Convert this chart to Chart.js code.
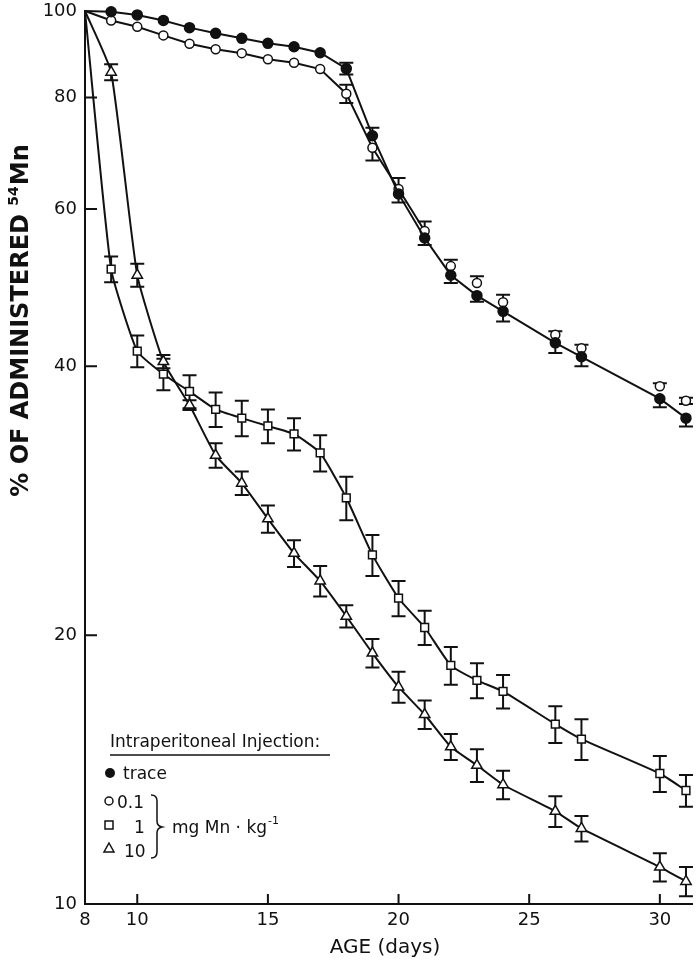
<!DOCTYPE html>
<html>
<head>
<meta charset="utf-8">
<script src="https://cdn.jsdelivr.net/npm/chart.js@4.4.1/dist/chart.umd.min.js"></script>
<style>
  html, body { margin: 0; padding: 0; background: #fff; }
  canvas { display: block; }
</style>
</head>
<body>
<canvas id="myChart" width="700" height="966"></canvas>
<script>
// age in days
const days = [8, 9, 10, 11, 12, 13, 14, 15, 16, 17, 18, 19, 20, 21, 22, 23, 24, 26, 27, 30, 31];

// % of administered 54Mn retained
const trace = [100, 99.8, 99.0, 97.6, 95.8, 94.4, 93.2, 92.0, 91.2, 89.8, 86.2, 72.5, 62.4, 55.7, 50.6, 48.0, 46.1, 42.5, 41.0, 36.8, 35.0];
const traceErr = [0, 0, 0, 0, 0, 0, 0, 0, 0, 0, 1.3, 1.5, 1.35, 1.0, 1.0, 0.75, 1.2, 1.1, 1.0, 0.8, 0.75];

const dose01 = [100, 97.6, 96.0, 93.9, 91.9, 90.6, 89.7, 88.3, 87.5, 86.1, 80.8, 70.3, 63.2, 56.7, 51.8, 49.6, 47.2, 43.4, 41.9, 38.0, 36.6];
const dose01Err = [0, 0, 0, 0, 0, 0, 0, 0, 0, 0, 1.9, 2.3, 1.8, 1.4, 0.85, 0.85, 0.9, 0.4, 0.4, 0.3, 0.3];

const dose1 = [100, 51.4, 41.6, 39.2, 37.5, 35.8, 35.0, 34.3, 33.6, 32.0, 28.5, 24.6, 22.0, 20.4, 18.5, 17.8, 17.3, 15.9, 15.3, 14.0, 13.4];
const dose1Err = [0, 1.7, 1.7, 1.6, 1.6, 1.6, 1.6, 1.5, 1.4, 1.5, 1.6, 1.3, 1.0, 0.9, 0.9, 0.8, 0.75, 0.75, 0.8, 0.65, 0.55];

const dose10 = [100, 85.4, 50.6, 40.5, 36.2, 31.8, 29.6, 27.0, 24.7, 23.0, 21.0, 19.1, 17.5, 16.3, 15.0, 14.3, 13.6, 12.7, 12.15, 11.0, 10.6];
const dose10Err = [0, 1.75, 1.5, 0.7, 0.45, 1.0, 0.9, 0.95, 0.85, 0.9, 0.6, 0.7, 0.7, 0.6, 0.5, 0.6, 0.5, 0.5, 0.4, 0.4, 0.4];

const xTicks = [8, 10, 15, 20, 25, 30];
const yTicks = [10, 20, 40, 60, 80, 100];

const FONT = '"DejaVu Sans", sans-serif';
const INK = '#111';

const pts = (vals) => days.map((d, i) => ({ x: d, y: vals[i] }));
const noFirst = (r) => (ctx) => ctx.dataIndex === 0 ? 0 : r;

// error bars, drawn before the markers so the white fill covers the inner part
const errorBars = {
  id: 'errorBars',
  beforeDatasetsDraw(chart) {
    const ctx = chart.ctx;
    const ys = chart.scales.y;
    ctx.save();
    ctx.strokeStyle = INK;
    ctx.lineWidth = 2;
    chart.data.datasets.forEach((ds, di) => {
      const meta = chart.getDatasetMeta(di);
      const partner = ds.partner !== undefined ? chart.getDatasetMeta(ds.partner) : null;
      meta.data.forEach((pt, i) => {
        const e = ds.err[i];
        if (!e) return;
        const v = ds.data[i].y;
        const top = ys.getPixelForValue(v + e);
        const bot = ys.getPixelForValue(v - e);
        let up = true, down = true;
        if (partner) {
          const py = partner.data[i].y;
          if (py < pt.y && pt.y - py < (pt.y - top) + 12) up = false;
          if (py > pt.y && py - pt.y < (bot - pt.y) + 12) down = false;
        }
        const cap = 7;
        ctx.beginPath();
        if (up) {
          ctx.moveTo(pt.x, pt.y); ctx.lineTo(pt.x, top);
          ctx.moveTo(pt.x - cap, top); ctx.lineTo(pt.x + cap, top);
        }
        if (down) {
          ctx.moveTo(pt.x, pt.y); ctx.lineTo(pt.x, bot);
          ctx.moveTo(pt.x - cap, bot); ctx.lineTo(pt.x + cap, bot);
        }
        ctx.stroke();
      });
    });
    ctx.restore();
  }
};

// inward ticks, axis titles and the hand-lettered key
const decorations = {
  id: 'decorations',
  afterDraw(chart) {
    const ctx = chart.ctx;
    const xs = chart.scales.x;
    const ys = chart.scales.y;
    const a = chart.chartArea;
    ctx.save();
    ctx.strokeStyle = INK;
    ctx.fillStyle = INK;
    ctx.lineWidth = 2;

    ctx.beginPath();
    xTicks.slice(1).forEach(t => {
      const px = xs.getPixelForValue(t);
      ctx.moveTo(px, a.bottom); ctx.lineTo(px, a.bottom - 10);
    });
    yTicks.slice(1, -1).forEach(t => {
      const py = ys.getPixelForValue(t);
      ctx.moveTo(a.left, py); ctx.lineTo(a.left + 12, py);
    });
    ctx.stroke();

    // x title
    ctx.font = '20px ' + FONT;
    ctx.textAlign = 'center';
    ctx.textBaseline = 'middle';
    ctx.fillText('AGE (days)', 385, 948);

    // y title, rotated, with superscript mass number
    ctx.save();
    ctx.translate(28, 321);
    ctx.rotate(-Math.PI / 2);
    ctx.textBaseline = 'alphabetic';
    ctx.textAlign = 'left';
    const main = '% OF ADMINISTERED ';
    ctx.font = 'bold 24px ' + FONT;
    const w1 = ctx.measureText(main).width;
    ctx.font = 'bold 14px ' + FONT;
    const w2 = ctx.measureText('54').width;
    ctx.font = 'bold 24px ' + FONT;
    const w3 = ctx.measureText('Mn').width;
    let x0 = -(w1 + w2 + w3) / 2;
    ctx.fillText(main, x0, 0);
    ctx.font = 'bold 14px ' + FONT;
    ctx.fillText('54', x0 + w1, -10);
    ctx.font = 'bold 24px ' + FONT;
    ctx.fillText('Mn', x0 + w1 + w2 + 1, 0);
    ctx.restore();

    // key
    ctx.textAlign = 'left';
    ctx.textBaseline = 'alphabetic';
    ctx.font = '17px ' + FONT;
    ctx.fillText('Intraperitoneal Injection:', 110, 747);
    ctx.lineWidth = 1.5;
    ctx.beginPath();
    ctx.moveTo(110, 755); ctx.lineTo(330, 755);
    ctx.stroke();

    ctx.beginPath();
    ctx.arc(110, 773, 5, 0, Math.PI * 2);
    ctx.fill();
    ctx.fillText('trace', 123, 779);

    ctx.beginPath();
    ctx.arc(109, 801, 4, 0, Math.PI * 2);
    ctx.stroke();
    ctx.fillText('0.1', 117, 808);

    ctx.strokeRect(105, 821, 8, 8);
    ctx.fillText('1', 134, 833);

    ctx.beginPath();
    ctx.moveTo(109, 843); ctx.lineTo(114, 852); ctx.lineTo(104, 852); ctx.closePath();
    ctx.stroke();
    ctx.fillText('10', 124, 857);

    // brace
    ctx.beginPath();
    ctx.moveTo(151, 795);
    ctx.quadraticCurveTo(157, 795, 157, 801);
    ctx.lineTo(157, 821);
    ctx.quadraticCurveTo(157, 826, 162, 827);
    ctx.quadraticCurveTo(157, 828, 157, 833);
    ctx.lineTo(157, 852);
    ctx.quadraticCurveTo(157, 858, 151, 858);
    ctx.stroke();

    ctx.fillText('mg Mn · kg', 172, 833);
    const wk = ctx.measureText('mg Mn · kg').width;
    ctx.font = '11px ' + FONT;
    ctx.fillText('-1', 172 + wk + 1, 824);
    ctx.restore();
  }
};

Chart.defaults.font.family = FONT;
Chart.defaults.color = INK;

const lineBase = {
  borderColor: INK,
  borderWidth: 2,
  pointBorderColor: INK,
  pointBorderWidth: 1.5,
  clip: false,
  tension: 0,
};

const data = {
  datasets: [
    Object.assign({}, lineBase, {
      label: 'trace',
      data: pts(trace),
      err: traceErr,
      partner: 1,
      pointStyle: 'circle',
      pointRadius: noFirst(5),
      pointBackgroundColor: INK,
    }),
    Object.assign({}, lineBase, {
      label: '0.1',
      data: pts(dose01),
      err: dose01Err,
      partner: 0,
      pointStyle: 'circle',
      pointRadius: noFirst(4.5),
      pointBackgroundColor: '#fff',
      segment: {
        borderColor: (c) => c.p0.parsed.x >= 21 ? 'rgba(0,0,0,0)' : undefined,
      },
    }),
    Object.assign({}, lineBase, {
      label: '1',
      data: pts(dose1),
      err: dose1Err,
      pointStyle: 'rect',
      pointRadius: noFirst(5.5),
      pointBackgroundColor: '#fff',
      tension: 0.15,
    }),
    Object.assign({}, lineBase, {
      label: '10',
      data: pts(dose10),
      err: dose10Err,
      pointStyle: 'triangle',
      pointRadius: noFirst(6),
      pointBackgroundColor: '#fff',
      tension: 0.15,
    }),
  ]
};

const config = {
  type: 'line',
  data: data,
  plugins: [errorBars, decorations],
  options: {
    responsive: false,
    animation: false,
    devicePixelRatio: 1,
    layout: { padding: { top: 11, right: 2, left: 0, bottom: 0 } },
    plugins: {
      legend: { display: false },
      tooltip: { enabled: false },
    },
    scales: {
      x: {
        type: 'linear',
        min: 8,
        max: 31.25,
        afterBuildTicks: (axis) => { axis.ticks = xTicks.map(v => ({ value: v })); },
        afterFit: (axis) => { axis.height = 62; axis.paddingLeft = 0; axis.paddingRight = 0; },
        grid: { drawOnChartArea: false, drawTicks: false, color: 'rgba(0,0,0,0)' },
        border: { display: true, color: INK, width: 2 },
        ticks: { font: { size: 18 }, color: INK, padding: 6, maxRotation: 0 },
      },
      y: {
        type: 'logarithmic',
        min: 10,
        max: 100,
        afterBuildTicks: (axis) => { axis.ticks = yTicks.map(v => ({ value: v })); },
        afterFit: (axis) => { axis.width = 85; axis.paddingTop = 0; axis.paddingBottom = 0; },
        grid: { drawOnChartArea: false, drawTicks: false, color: 'rgba(0,0,0,0)' },
        border: { display: true, color: INK, width: 2 },
        ticks: { font: { size: 18 }, color: INK, padding: 8, callback: (v) => String(v) },
      },
    },
  },
};

const myChart = new Chart(document.getElementById('myChart'), config);
</script>
</body>
</html>
